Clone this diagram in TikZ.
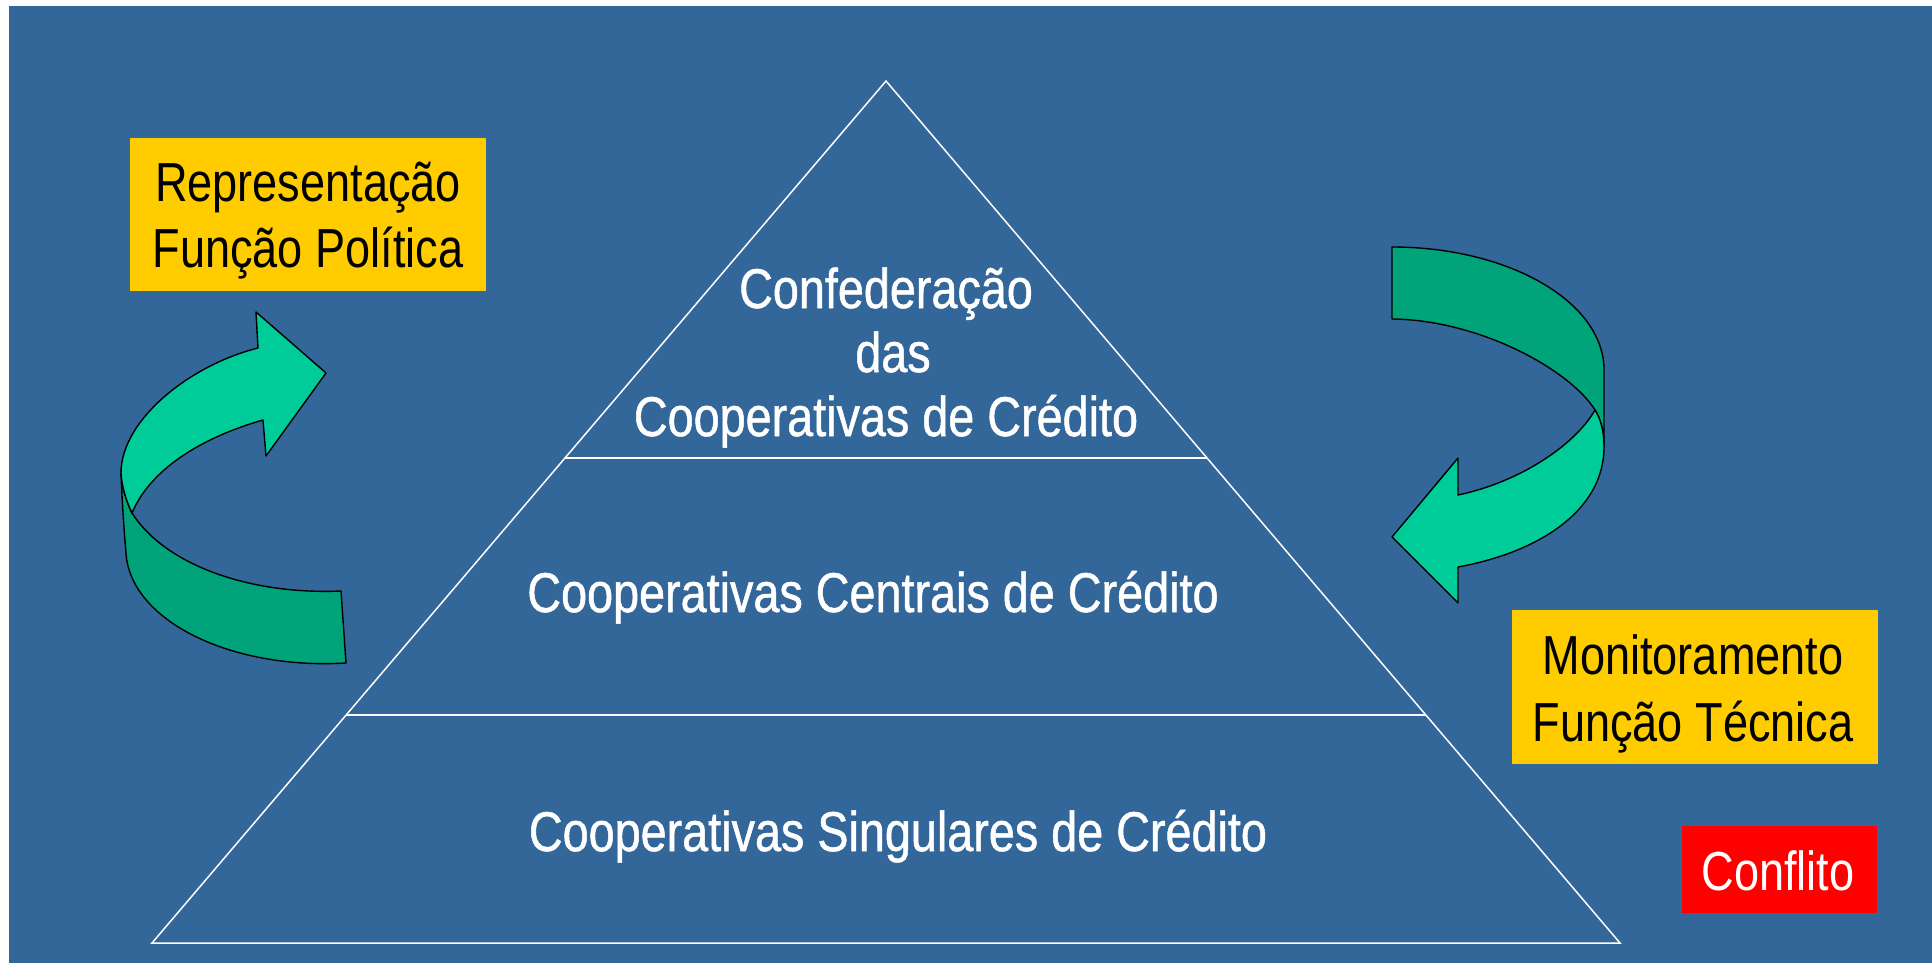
\documentclass[tikz,border=0pt]{standalone}
\usepackage{fontspec}
\newfontfamily\narrowfont[FakeStretch=0.82]{Liberation Sans}
\newfontfamily\pyrfont[FakeStretch=0.835,FakeBold=0.9]{Liberation Sans}
\usetikzlibrary{calc}
\definecolor{bgblue}{HTML}{336699}
\definecolor{ybox}{HTML}{FFCC00}
\definecolor{rbox}{HTML}{FF0000}
\definecolor{glight}{HTML}{00CC99}
\definecolor{gdark}{HTML}{00A37A}
\tikzset{
  pyrline/.style={draw=white, line width=0.75pt},
  pyrtext/.style={text=white, font=\pyrfont\fontsize{28}{33}\selectfont, anchor=base, inner sep=0pt},
  boxtext/.style={text=black, font=\narrowfont\fontsize{27.5}{33}\selectfont, anchor=base, inner sep=0pt},
  redtext/.style={text=white, font=\narrowfont\fontsize{27.5}{33}\selectfont, anchor=base, inner sep=0pt},
  yellowbox/.style={fill=ybox, draw=none, inner sep=0pt},
  redbox/.style={fill=rbox, draw=none, inner sep=0pt},
  ribbonlight/.style={fill=glight, draw=black, line width=0.7pt, line join=round},
  ribbondark/.style={fill=gdark, draw=black, line width=0.7pt, line join=round},
}
\begin{document}
\begin{tikzpicture}[x=0.5pt,y=-0.5pt]
\useasboundingbox (0,0) rectangle (1932,963);
\fill[white] (0,0) rectangle (1932,963);
\fill[bgblue] (9,6) rectangle (1932,963);

% pyramid
\coordinate (apex) at (886,81);
\coordinate (bl) at (152,943);
\coordinate (br) at (1620,943);
\draw[pyrline] (apex) -- (bl) -- (br) -- cycle;
\coordinate (d1l) at ($(apex)!0.4374!(bl)$);
\coordinate (d1r) at ($(apex)!0.4374!(br)$);
\coordinate (d2l) at ($(apex)!0.7355!(bl)$);
\coordinate (d2r) at ($(apex)!0.7355!(br)$);
\draw[pyrline] (d1l) -- (d1r);
\draw[pyrline] (d2l) -- (d2r);

\node[pyrtext] (conf) at (886,308) {Confederação};
\node[pyrtext] (das) at (893,372) {das};
\node[pyrtext] (coop) at (886,436) {Cooperativas de Crédito};
\node[pyrtext] (centrais) at (873,612) {Cooperativas Centrais de Crédito};
\node[pyrtext] (singulares) at (898,851) {Cooperativas Singulares de Crédito};

% boxes
\node[yellowbox, minimum width=178pt, minimum height=76.5pt] (repbox) at (308,214.5) {};
\node[boxtext] (rep1) at (308,201) {Representação};
\node[boxtext] (rep2) at (308,267) {Função Política};

\node[yellowbox, minimum width=183pt, minimum height=77pt] (monbox) at (1695,687) {};
\node[boxtext] (mon1) at (1693,674) {Monitoramento};
\node[boxtext] (mon2) at (1693,741) {Função Técnica};

\node[redbox, minimum width=97.5pt, minimum height=43.5pt] (confbox) at (1779.5,869.5) {};
\node[redtext] (conflito) at (1778,890) {Conflito};

% left curved arrow
\path[ribbondark] (121,473) .. controls (122,500) and (124,530) .. (126,553)
  .. controls (130,620) and (230,670) .. (346,663)
  -- (341,591)
  .. controls (250,595) and (165,565) .. (132,513)
  .. controls (126,500) and (122,488) .. (121,473) -- cycle;
\path[ribbonlight] (121,473) .. controls (121,420) and (190,365) .. (258,348)
  -- (256,312) -- (326,373) -- (266,456) -- (263,420)
  .. controls (200,438) and (150,470) .. (132,513)
  .. controls (126,500) and (122,488) .. (121,473) -- cycle;

% right curved arrow
\path[ribbondark] (1392,247) .. controls (1509,247) and (1604,302) .. (1604,370)
  -- (1604,447)
  .. controls (1604,430) and (1600,418) .. (1595,410)
  .. controls (1570,370) and (1480,320) .. (1392,319) -- cycle;
\path[ribbonlight] (1595,410) .. controls (1575,445) and (1520,482) .. (1458,495)
  -- (1458,458) -- (1392,537) -- (1458,603) -- (1458,567)
  .. controls (1540,552) and (1604,510) .. (1604,447)
  .. controls (1604,430) and (1600,418) .. (1595,410) -- cycle;
\end{tikzpicture}
\end{document}
